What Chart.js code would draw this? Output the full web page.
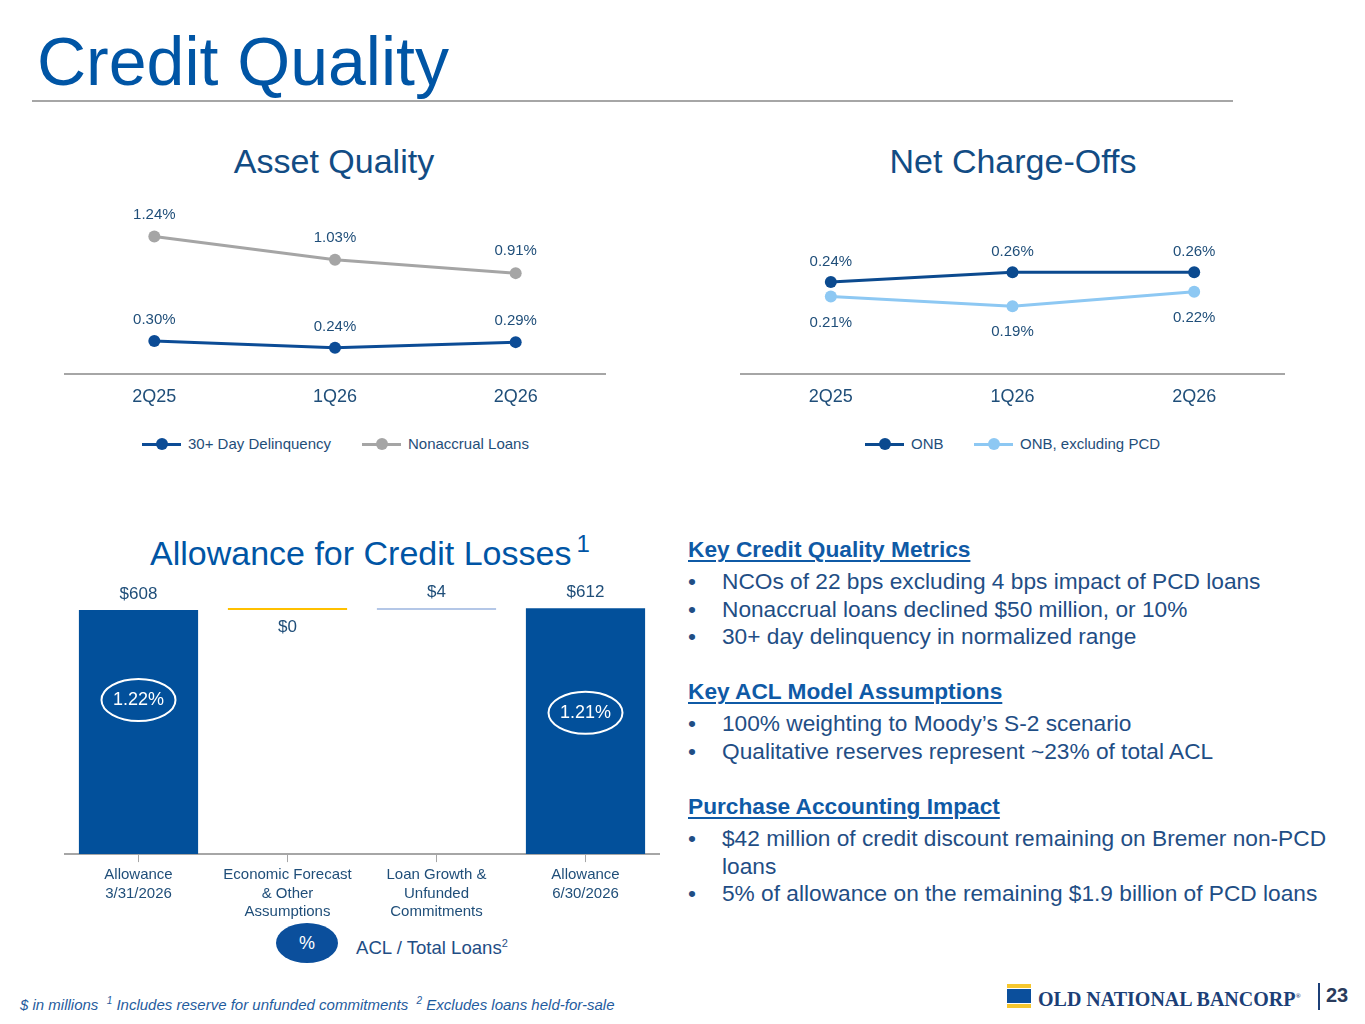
<!DOCTYPE html>
<html><head><meta charset="utf-8">
<script src="https://cdn.jsdelivr.net/npm/chart.js@4.4.1/dist/chart.umd.min.js"></script>
<style>
body{margin:0;width:1365px;height:1024px;position:relative;background:#fff;font-family:"Liberation Sans",Arial,sans-serif;overflow:hidden}
.abs{position:absolute;white-space:nowrap}
.title{left:37px;top:27px;font-size:68px;line-height:68px;color:#0055A5}
.rule{left:32px;top:100px;width:1201px;height:2px;background:#A6A6A6}
.sub{font-size:34px;line-height:34px;color:#124C84;text-align:center;width:600px}
.leg{font-size:15px;line-height:18px;color:#1F4E79;display:flex;align-items:center}
.sym{position:relative;width:39px;height:3px;margin-right:7px}
.sym i{position:absolute;left:13.5px;top:-4.5px;width:12px;height:12px;border-radius:50%}
.head{left:688px;font-size:22.7px;line-height:22px;font-weight:bold;color:#0F5AA6;text-decoration:underline;text-decoration-thickness:2px;text-underline-offset:3px}
.blk{left:688px;width:660px;font-size:22.7px;line-height:27.5px;color:#1F4E85}
.li{position:relative;padding-left:34px;white-space:normal}
.li:before{content:"•";position:absolute;left:0;top:0}
.foot{left:20px;top:995px;font-size:15px;font-style:italic;color:#1F5C9E}
</style></head><body>

<div class="abs title">Credit Quality</div>
<div class="abs rule"></div>

<div class="abs sub" style="left:34px;top:144px">Asset Quality</div>
<div class="abs sub" style="left:713px;top:144px">Net Charge-Offs</div>

<div class="abs" style="left:64px;top:200px"><canvas id="c1" width="542" height="220"></canvas></div>
<div class="abs" style="left:740px;top:200px"><canvas id="c2" width="545" height="220"></canvas></div>

<div class="abs leg" style="left:142px;top:435px"><span class="sym" style="background:#0C4C96"><i style="background:#0C4C96"></i></span><span id="l1a"></span></div>
<div class="abs leg" style="left:362px;top:435px"><span class="sym" style="background:#A5A5A5"><i style="background:#A5A5A5"></i></span><span id="l1b"></span></div>
<div class="abs leg" style="left:865px;top:435px"><span class="sym" style="background:#0B4A8F"><i style="background:#0B4A8F"></i></span><span id="l2a"></span></div>
<div class="abs leg" style="left:974px;top:435px"><span class="sym" style="background:#8DC8F3"><i style="background:#8DC8F3"></i></span><span id="l2b"></span></div>

<div class="abs" style="left:150px;top:536px;font-size:34px;line-height:34px;color:#0055A5">Allowance for Credit Losses<span style="font-size:24px;position:relative;top:-13px;margin-left:5px">1</span></div>

<div class="abs" style="left:64px;top:565px"><canvas id="c3" width="596" height="360"></canvas></div>

<div class="abs" style="left:276px;top:923px;width:62px;height:40px;border-radius:50%;background:#0B4F9C;color:#fff;font-size:18px;line-height:40px;text-align:center">%</div>
<div class="abs" style="left:356px;top:932px;font-size:18.6px;line-height:22px;color:#1F4E85">ACL / Total Loans<sup style="font-size:11px">2</sup></div>

<div class="abs head" style="top:538px">Key Credit Quality Metrics</div>
<div class="abs blk" style="top:568px">
<div class="li">NCOs of 22 bps excluding 4 bps impact of PCD loans</div>
<div class="li">Nonaccrual loans declined $50 million, or 10%</div>
<div class="li">30+ day delinquency in normalized range</div>
</div>
<div class="abs head" style="top:680px">Key ACL Model Assumptions</div>
<div class="abs blk" style="top:710px">
<div class="li">100% weighting to Moody’s S-2 scenario</div>
<div class="li">Qualitative reserves represent ~23% of total ACL</div>
</div>
<div class="abs head" style="top:795px">Purchase Accounting Impact</div>
<div class="abs blk" style="top:825px;width:640px">
<div class="li">$42 million of credit discount remaining on Bremer non-PCD loans</div>
<div class="li">5% of allowance on the remaining $1.9 billion of PCD loans</div>
</div>

<div class="abs foot">$ in millions &nbsp;<sup style="font-size:10px">1</sup> Includes reserve for unfunded commitments &nbsp;<sup style="font-size:10px">2</sup> Excludes loans held-for-sale</div>

<div class="abs" style="left:1007px;top:984px;width:24px;height:4px;background:#F6C72E"></div>
<div class="abs" style="left:1007px;top:989px;width:24px;height:14px;background:#0B4F9C"></div>
<div class="abs" style="left:1007px;top:1004px;width:24px;height:4px;background:#F6C72E"></div>
<div class="abs" style="left:1038px;top:985px;font-family:'Liberation Serif',serif;font-weight:bold;font-size:20px;line-height:22px;color:#1C3F77">OLD NATIONAL BANCORP<sup style="font-size:7px">®</sup></div>
<div class="abs" style="left:1318px;top:983px;width:2px;height:27px;background:#1C3F77"></div>
<div class="abs" style="left:1326px;top:984px;font-weight:bold;font-size:20px;line-height:22px;color:#2A3B5C">23</div>

<script>
// ---------- data ----------
const quarters = ['2Q25', '1Q26', '2Q26'];
const delinquency30 = [0.30, 0.24, 0.29];
const nonaccrualLoans = [1.24, 1.03, 0.91];
const ncoONB = [0.24, 0.26, 0.26];
const ncoExPCD = [0.21, 0.19, 0.22];
const aqSeriesNames = ['30+ Day Delinquency', 'Nonaccrual Loans'];
const ncoSeriesNames = ['ONB', 'ONB, excluding PCD'];

const acCategories = [['Allowance', '3/31/2026'], ['Economic Forecast', '& Other', 'Assumptions'], ['Loan Growth &', 'Unfunded', 'Commitments'], ['Allowance', '6/30/2026']];
const acValues = [608, 0, 4, 612];
const acKinds = ['total', 'delta', 'delta', 'total'];
const aclRatios = [1.22, null, null, 1.21];

document.getElementById('l1a').textContent = aqSeriesNames[0];
document.getElementById('l1b').textContent = aqSeriesNames[1];
document.getElementById('l2a').textContent = ncoSeriesNames[0];
document.getElementById('l2b').textContent = ncoSeriesNames[1];

const NAVY = '#1F4E79';
const FONT = '"Liberation Sans", Arial, sans-serif';

const pointLabels = {
  id: 'pointLabels',
  afterDatasetsDraw(chart, args, opts) {
    const ctx = chart.ctx;
    chart.data.datasets.forEach((ds, i) => {
      const meta = chart.getDatasetMeta(i);
      meta.data.forEach((pt, j) => {
        ctx.save();
        ctx.font = '15px ' + FONT;
        ctx.fillStyle = NAVY;
        ctx.textAlign = 'center';
        ctx.textBaseline = 'middle';
        ctx.fillText(ds.data[j].toFixed(2) + '%', pt.x, pt.y + opts.offsets[i]);
        ctx.restore();
      });
    });
  }
};

function lineOpts(min, max, padTop, offsets) {
  return {
    responsive: false, animation: false,
    layout: { autoPadding: false, padding: { top: padTop, left: 0, right: 0, bottom: 0 } },
    plugins: { legend: { display: false }, tooltip: { enabled: false }, pointLabels: { offsets } },
    scales: {
      x: { offset: true, grid: { display: false, drawTicks: false },
           border: { display: true, color: '#A6A6A6', width: 2 },
           ticks: { color: NAVY, font: { family: FONT, size: 18 }, padding: 12 } },
      y: { display: false, min, max }
    }
  };
}
function lineDs(label, data, color) {
  return { label, data, borderColor: color, backgroundColor: color, borderWidth: 3,
           pointRadius: 6, pointBackgroundColor: color, pointBorderWidth: 0, clip: false, tension: 0 };
}

new Chart(document.getElementById('c1'), {
  type: 'line',
  data: { labels: quarters, datasets: [
    lineDs(aqSeriesNames[0], delinquency30, '#0C4C96'),
    lineDs(aqSeriesNames[1], nonaccrualLoans, '#A5A5A5') ] },
  options: lineOpts(0, 1.4, 18.6, [-21, -22]),
  plugins: [pointLabels]
});

new Chart(document.getElementById('c2'), {
  type: 'line',
  data: { labels: quarters, datasets: [
    lineDs(ncoSeriesNames[0], ncoONB, '#0B4A8F'),
    lineDs(ncoSeriesNames[1], ncoExPCD, '#8DC8F3') ] },
  options: lineOpts(0.05, 0.35, 28.5, [-20, 26]),
  plugins: [pointLabels]
});

// waterfall ranges built from values
let running = 0;
const acRanges = acValues.map((v, i) => {
  if (acKinds[i] === 'total') { running = v; return [0, v]; }
  const r = [running, running + v]; running += v; return r;
});

const barDecor = {
  id: 'barDecor',
  afterDatasetsDraw(chart, args, opts) {
    const ctx = chart.ctx;
    const meta = chart.getDatasetMeta(0);
    meta.data.forEach((bar, j) => {
      const top = Math.min(bar.y, bar.base), bottom = Math.max(bar.y, bar.base);
      ctx.save();
      ctx.font = '17px ' + FONT;
      ctx.fillStyle = NAVY;
      ctx.textAlign = 'center';
      ctx.textBaseline = 'middle';
      const below = opts.labelBelow[j];
      ctx.fillText('$' + acValues[j], bar.x, below ? bottom + 17 : top - 16);
      if (aclRatios[j] != null) {
        const cy = top + (bottom - top) * opts.ovalPos[j];
        ctx.strokeStyle = '#fff';
        ctx.lineWidth = 2;
        ctx.beginPath();
        ctx.ellipse(bar.x, cy, 37, 21, 0, 0, Math.PI * 2);
        ctx.stroke();
        ctx.fillStyle = '#fff';
        ctx.font = '18px ' + FONT;
        ctx.fillText(aclRatios[j].toFixed(2) + '%', bar.x, cy);
      }
      ctx.restore();
    });
  }
};

new Chart(document.getElementById('c3'), {
  type: 'bar',
  data: { labels: acCategories, datasets: [{
    data: acRanges,
    backgroundColor: ['#02509B', '#FFC000', '#B4C7E7', '#02509B'],
    barPercentage: 0.8, categoryPercentage: 1.0, minBarLength: 2, borderSkipped: false
  }] },
  options: {
    responsive: false, animation: false,
    layout: { autoPadding: false, padding: { top: 8, left: 0, right: 0, bottom: 0 } },
    plugins: { legend: { display: false }, tooltip: { enabled: false },
               barDecor: { labelBelow: [false, true, false, false], ovalPos: [0.369, 0.425, 0, 0.425] } },
    scales: {
      x: { offset: true,
           grid: { display: true, drawOnChartArea: false, drawTicks: true, tickLength: 8, offset: false, color: '#A6A6A6', lineWidth: 1 },
           border: { display: true, color: '#A6A6A6', width: 2 },
           ticks: { color: NAVY, font: { family: FONT, size: 15, lineHeight: 1.22 }, padding: 4, maxRotation: 0, autoSkip: false } },
      y: { display: false, min: 0, max: 700 }
    }
  },
  plugins: [barDecor]
});
</script>
</body></html>
